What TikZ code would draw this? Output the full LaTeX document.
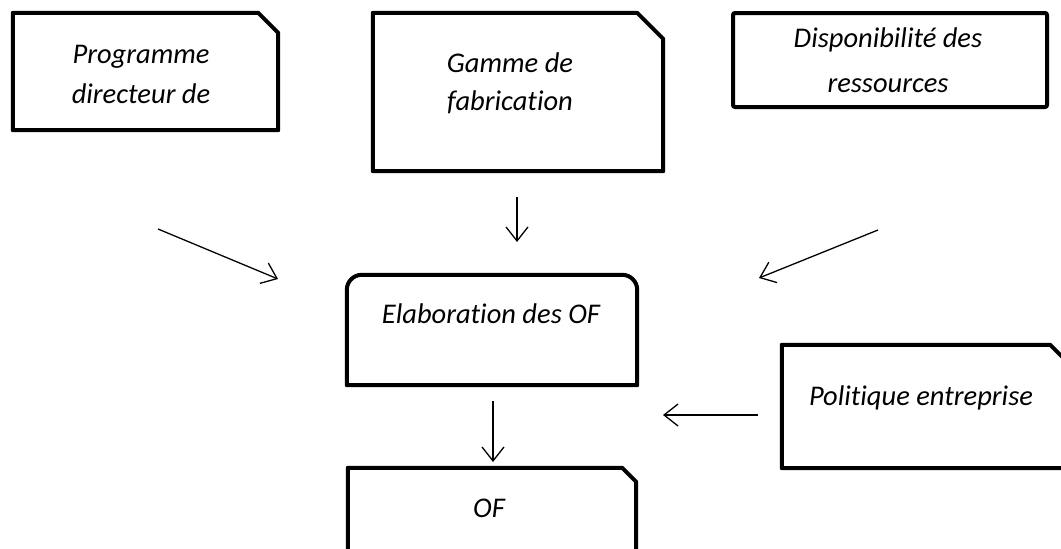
\documentclass[tikz,border=0pt]{standalone}
\usepackage{fontspec}
\setmainfont{Carlito}[Ligatures={NoCommon,NoRare,NoContextual}]
\usetikzlibrary{arrows.meta,calc}
\begin{document}
\begin{tikzpicture}[x=1pt,y=-1pt,
  frame/.style={inner sep=0pt},
  edge/.style={draw=black,line width=4pt,line join=round},
  txt/.style={font=\itshape\fontsize{28.5}{40}\selectfont,inner sep=0pt,anchor=base},
  flow/.style={line width=1.3pt,-{Straight Barb[length=14pt,width=22pt,line width=1.3pt]}}]
\useasboundingbox (0,0) rectangle (1061,549);
\clip (0,0) rectangle (1061,549);

% outline of a box with its top right corner cut off
\newcommand{\cutbox}[2]{%
  \draw[edge] (#1.south west) -- (#1.north west) -- ($(#1.north east)+(-#2,0)$)
    -- ($(#1.north east)+(0,#2)$) -- (#1.south east) -- cycle;}

% source boxes along the top
\node[frame,minimum width=265pt,minimum height=117pt] (prog) at (145.5,71.5) {};
\cutbox{prog}{20}
\node[frame,minimum width=290pt,minimum height=158pt] (gam) at (518,92) {};
\cutbox{gam}{26}
\node[frame,draw,line width=4pt,rounded corners=2pt,minimum width=314pt,minimum height=94pt] (disp) at (890,60) {};

% central processing box: rounded on top only
\node[frame,minimum width=290pt,minimum height=110pt] (elab) at (492,330) {};
\draw[edge] (elab.south west) [rounded corners=15pt] -- (elab.north west)
  -- (elab.north east) [sharp corners] -- (elab.south east) -- cycle;

% company policy and the resulting orders
\node[frame,minimum width=290pt,minimum height=123pt] (pol) at (927,406.5) {};
\cutbox{pol}{22}
\node[frame,minimum width=288pt,minimum height=112pt] (of) at (492,524) {};
\cutbox{of}{14}

% texts (\kern0pt keeps the t and i apart)
\node[txt] (progA) at (141,63) {Programme};
\node[txt] (progB) at (141,103) {directeur de};
\node[txt] (gamA) at (510,72) {Gamme de};
\node[txt] (gamB) at (510,110) {fabricat\kern0pt ion};
\node[txt] (dispA) at (888,47) {Disponibilité des};
\node[txt] (dispB) at (888,92) {ressources};
\node[txt] (elabT) at (491,323) {Elaborat\kern0pt ion des OF};
\node[txt] (polT) at (921,405) {Polit\kern0pt ique entreprise};
\node[txt] (ofT) at (489,517) {OF};

% free ends of the connectors
\coordinate (a1s) at (158,229);  \coordinate (a1e) at (278,279);
\coordinate (a2s) at (878,230);  \coordinate (a2e) at (759,278);
\coordinate (a3s) at (517,197);  \coordinate (a3e) at (517,242);
\coordinate (a4s) at (493,401);  \coordinate (a4e) at (493,462);
\coordinate (a5s) at (758,415);  \coordinate (a5e) at (663,415);

\draw[flow] (a1s) -- (a1e);
\draw[flow] (a2s) -- (a2e);
\draw[flow] (a3s) -- (a3e);
\draw[flow] (a4s) -- (a4e);
\draw[flow] (a5s) -- (a5e);
\end{tikzpicture}
\end{document}
